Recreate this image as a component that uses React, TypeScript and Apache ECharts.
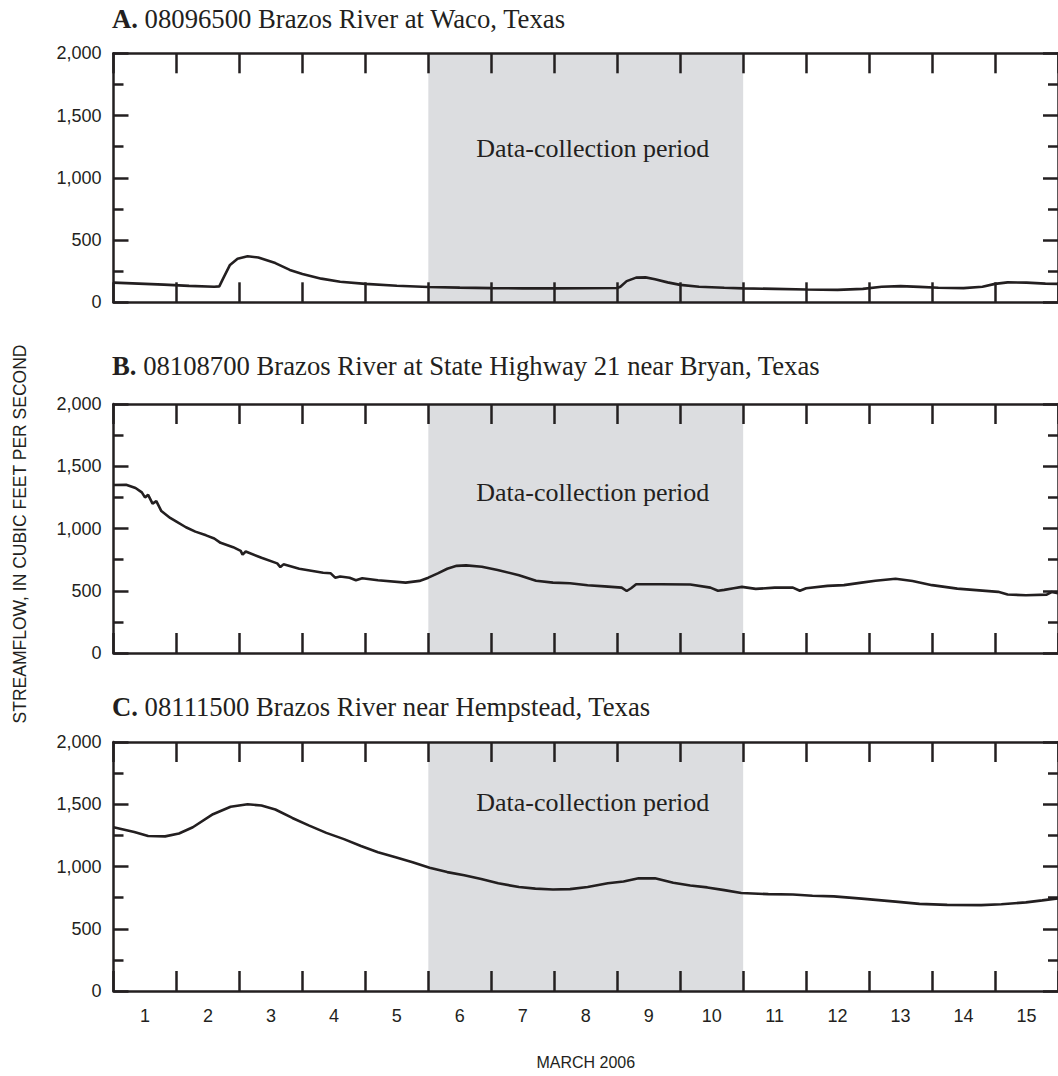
import React, { useEffect, useRef } from "react";
import * as echarts from "echarts";

// Day labels (March 2006)
const dayLabels = ["1", "2", "3", "4", "5", "6", "7", "8", "9", "10", "11", "12", "13", "14", "15"];
const yTicks = [0, 500, 1000, 1500, 2000];

// Panel A: 08096500 Brazos River at Waco — x = days since March 1 00:00
const daysA = [0, 0.4, 0.8, 1.2, 1.6, 1.68, 1.75, 1.85, 1.97, 2.13, 2.3, 2.57, 2.8, 3.0, 3.3, 3.6, 4.0, 4.5, 5.0, 5.5, 6.0, 6.5, 7.0, 7.5, 8.0, 8.05, 8.15, 8.3, 8.45, 8.6, 8.8, 9.0, 9.3, 9.7, 10.0, 10.5, 11.0, 11.5, 11.9, 12.2, 12.5, 12.8, 13.1, 13.5, 13.8, 14.0, 14.2, 14.5, 14.8, 15.0];
const flowA = [158, 150, 142, 132, 125, 128, 200, 300, 350, 370, 360, 315, 260, 228, 190, 165, 148, 133, 123, 118, 114, 112, 112, 113, 115, 125, 170, 198, 200, 185, 160, 140, 125, 117, 112, 108, 103, 100, 108, 125, 130, 124, 117, 114, 125, 148, 160, 158, 150, 148];

// Panel B: 08108700 Brazos River at SH 21 near Bryan
const daysB = [0, 0.2, 0.35, 0.45, 0.5, 0.55, 0.62, 0.68, 0.76, 0.9, 1.0, 1.15, 1.3, 1.47, 1.6, 1.7, 1.9, 2.02, 2.05, 2.1, 2.35, 2.6, 2.65, 2.7, 2.95, 3.33, 3.45, 3.52, 3.6, 3.75, 3.85, 3.95, 4.2, 4.64, 4.86, 5.0, 5.15, 5.3, 5.45, 5.6, 5.85, 6.1, 6.44, 6.71, 6.98, 7.25, 7.53, 7.8, 8.07, 8.15, 8.22, 8.3, 8.7, 9.16, 9.48, 9.6, 9.7, 9.85, 9.98, 10.2, 10.5, 10.79, 10.9, 11.0, 11.34, 11.6, 11.88, 12.1, 12.42, 12.69, 13.0, 13.4, 13.7, 14.05, 14.2, 14.49, 14.82, 14.9, 15.0];
const flowB = [1350, 1352, 1325, 1290, 1250, 1270, 1200, 1220, 1140, 1085, 1055, 1010, 975, 945, 920, 885, 850, 820, 790, 815, 765, 720, 690, 712, 677, 645, 640, 605, 615, 605, 585, 600, 584, 565, 579, 605, 640, 677, 700, 704, 693, 667, 625, 580, 565, 560, 544, 535, 525, 498, 520, 552, 552, 550, 525, 500, 507, 520, 531, 515, 525, 525, 500, 520, 539, 545, 565, 580, 597, 579, 545, 517, 505, 491, 470, 464, 469, 490, 480];

// Panel C: 08111500 Brazos River near Hempstead
const daysC = [0, 0.33, 0.55, 0.82, 1.04, 1.26, 1.58, 1.86, 2.13, 2.35, 2.57, 2.84, 3.1, 3.38, 3.66, 3.93, 4.2, 4.48, 4.75, 5.02, 5.3, 5.57, 5.84, 6.11, 6.44, 6.7, 6.98, 7.25, 7.53, 7.85, 8.1, 8.34, 8.6, 8.89, 9.16, 9.43, 9.7, 9.97, 10.4, 10.79, 11.1, 11.44, 11.88, 12.42, 12.8, 13.24, 13.78, 14.1, 14.49, 14.75, 15.0];
const flowC = [1315, 1277, 1245, 1242, 1265, 1315, 1420, 1480, 1500, 1490, 1458, 1390, 1330, 1270, 1220, 1165, 1115, 1075, 1035, 990, 955, 930, 900, 865, 835, 822, 815, 818, 835, 865, 880, 905, 905, 870, 848, 832, 810, 787, 778, 775, 765, 760, 742, 718, 700, 692, 690, 697, 712, 728, 744];

const panelTitles = [
  ["A.", "08096500 Brazos River at Waco, Texas"],
  ["B.", "08108700 Brazos River at State Highway 21 near Bryan, Texas"],
  ["C.", "08111500 Brazos River near Hempstead, Texas"],
];
const periodStart = 5;
const periodEnd = 10;
const periodLabel = "Data-collection period";

const INK = "#231f20";
const SANS = '"Liberation Sans", Arial, sans-serif';
const SERIF = '"Liberation Serif", "Times New Roman", serif';

export default function App() {
  const ref = useRef<HTMLDivElement>(null);
  useEffect(() => {
    if (!ref.current) return;
    const chart = echarts.init(ref.current, undefined, { renderer: "svg" });
    const tops = [53.3, 404, 742];
    const gridH = 249;
    const labelDy = [-29, -36, -64];
    const titleTops = [5.5, 352.5, 693.5];
    const datasets = [
      [daysA, flowA],
      [daysB, flowB],
      [daysC, flowC],
    ];

    const grid: any[] = [];
    const xAxis: any[] = [];
    const yAxis: any[] = [];
    const series: any[] = [];
    const title: any[] = [];

    const lineStyle = { color: INK, width: 2.5 };
    for (let i = 0; i < 3; i++) {
      grid.push({ left: 113.5, right: -2, top: tops[i], height: gridH });
      const catBase = {
        type: "category",
        gridIndex: i,
        data: dayLabels,
        boundaryGap: true,
        z: 10,
        axisLine: { show: true, onZero: false, lineStyle },
        axisTick: { show: true, inside: true, length: 20, lineStyle },
        splitLine: { show: false },
      };
      xAxis.push({
        ...catBase,
        position: "bottom",
        axisLabel: {
          show: i === 2,
          margin: 16,
          fontFamily: SANS,
          fontSize: 18,
          color: INK,
        },
        name: i === 2 ? "MARCH 2006" : "",
        nameLocation: "middle",
        nameGap: 63,
        nameTextStyle: { fontFamily: SANS, fontSize: 16, color: INK },
      });
      xAxis.push({ ...catBase, position: "top", axisLabel: { show: false } });
      xAxis.push({
        type: "value",
        gridIndex: i,
        min: 0,
        max: 15,
        show: false,
        axisLine: { onZero: false },
      });

      const yBase = {
        type: "value",
        gridIndex: i,
        min: 0,
        max: 2000,
        interval: 500,
        z: 10,
        axisLine: { show: true, onZero: false, lineStyle },
        axisTick: { show: true, inside: true, length: 15, lineStyle },
        minorTick: { show: true, splitNumber: 2, length: 10, lineStyle },
        splitLine: { show: false },
        minorSplitLine: { show: false },
      };
      yAxis.push({
        ...yBase,
        position: "left",
        axisLabel: {
          show: true,
          margin: 12,
          fontFamily: SANS,
          fontSize: 18,
          color: INK,
          formatter: (v: number) => (yTicks.includes(v) ? v.toLocaleString("en-US") : ""),
        },
      });
      yAxis.push({ ...yBase, position: "right", axisLabel: { show: false } });

      const [xs, ys] = datasets[i];
      series.push({
        type: "line",
        xAxisIndex: i * 3 + 2,
        yAxisIndex: i * 2,
        data: xs.map((x, k) => [x, ys[k]]),
        showSymbol: false,
        symbol: "none",
        z: 12,
        lineStyle: { color: INK, width: 2.6 },
        markArea: {
          silent: true,
          z: 1,
          itemStyle: { color: "#dcdde0" },
          label: {
            show: true,
            position: "inside",
            offset: [7, labelDy[i]],
            formatter: periodLabel,
            fontFamily: SERIF,
            fontSize: 26,
            color: INK,
          },
          data: [[{ xAxis: periodStart }, { xAxis: periodEnd }]],
        },
      });

      title.push({
        text: `{b|${panelTitles[i][0]}} ${panelTitles[i][1]}`,
        left: 112,
        top: titleTops[i],
        padding: 0,
        textStyle: {
          fontFamily: SERIF,
          fontSize: 26.7,
          fontWeight: "normal",
          color: INK,
          rich: {
            b: { fontFamily: SERIF, fontSize: 26.7, fontWeight: "bold", color: INK },
          },
        },
      });
    }

    chart.setOption({
      animation: false,
      backgroundColor: "#ffffff",
      title,
      grid,
      xAxis,
      yAxis,
      series,
      graphic: [
        {
          type: "text",
          x: 20,
          y: 534,
          rotation: Math.PI / 2,
          style: {
            text: "STREAMFLOW, IN CUBIC FEET PER SECOND",
            font: `17.5px ${SANS}`,
            fill: INK,
            textAlign: "center",
            textVerticalAlign: "middle",
          },
        },
      ],
    });
    return () => chart.dispose();
  }, []);
  return (
    <div
      ref={ref}
      style={{ position: "fixed", left: 0, top: 0, width: 1058, height: 1076, background: "#fff" }}
    />
  );
}
